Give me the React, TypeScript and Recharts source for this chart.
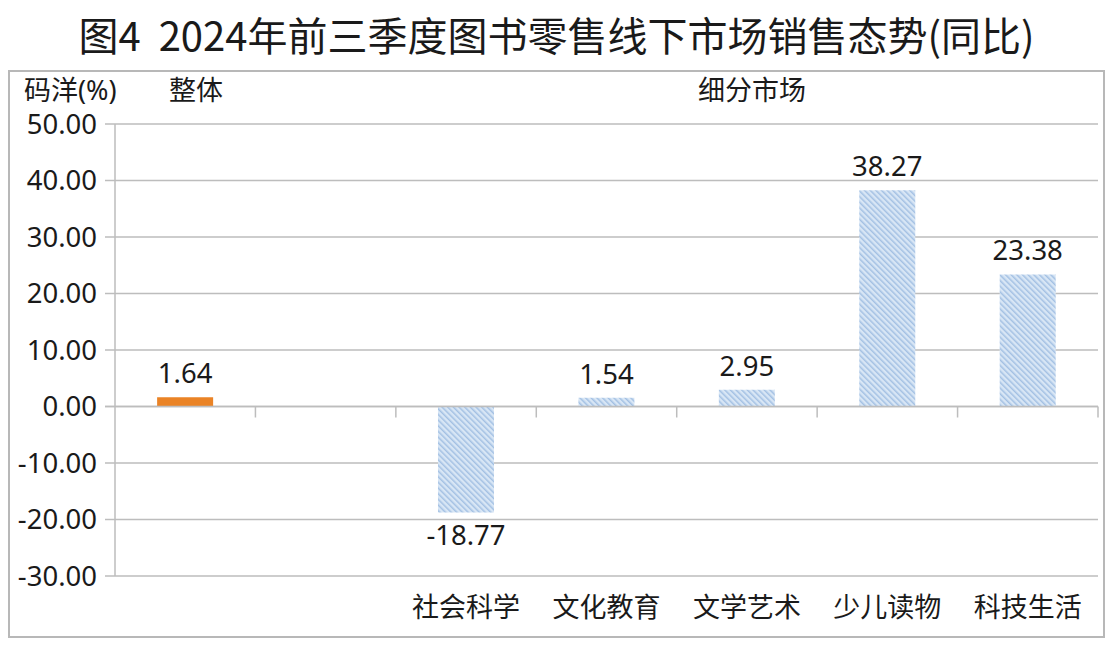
import { BarChart, Bar, XAxis, YAxis, CartesianGrid, ReferenceLine, LabelList, Cell } from "recharts";

const categories = ["整体", "空", "社会科学", "文化教育", "文学艺术", "少儿读物", "科技生活"];
const tickLabels = ["", "", "社会科学", "文化教育", "文学艺术", "少儿读物", "科技生活"];
const values = [1.64, null, -18.77, 1.54, 2.95, 38.27, 23.38];
const yTicks = [50, 40, 30, 20, 10, 0, -10, -20, -30];

const data = categories.map((c, i) => ({ name: c, value: values[i] }));

const FONT = "'Noto Sans', 'Noto Sans CJK SC', sans-serif";
const GRID = "#bdbdbd";
const FRAME = "#b8b8b8";

function ZeroLine(props: any) {
  const { x1, x2, y1 } = props;
  const step = (x2 - x1) / categories.length;
  return (
    <g>
      <line x1={x1 - 10} x2={x2} y1={y1} y2={y1} stroke={GRID} strokeWidth={1.5} />
      {categories.map((_, i) => (
        <line key={i} x1={x1 + step * (i + 1)} x2={x1 + step * (i + 1)} y1={y1} y2={y1 + 11} stroke={GRID} strokeWidth={1.5} />
      ))}
    </g>
  );
}

function ValueLabel(props: any) {
  const { x, y, width, height, value } = props;
  if (value == null) return null;
  const top = Math.min(y, y + height);
  const bottom = Math.max(y, y + height);
  const ty = value >= 0 ? top - 14 : bottom + 32;
  return (
    <text x={x + width / 2} y={ty} textAnchor="middle" fontSize={27.5} fill="#1a1a1a" fontFamily={FONT}>
      {value.toFixed(2)}
    </text>
  );
}

const headStyle = { position: "absolute" as const, top: 74, fontSize: 27, lineHeight: "32px", color: "#1a1a1a" };

export default function App() {
  return (
    <div style={{ position: "relative", width: 1113, height: 646, margin: -8, background: "#fff", fontFamily: FONT }}>
      <div style={{ position: "absolute", left: 0, top: 5, width: 1113, textAlign: "center", fontSize: 40, fontWeight: 400, color: "#1a1a1a", fontFamily: "'Noto Sans CJK SC', sans-serif", whiteSpace: "pre" }}>
        图4  2024年前三季度图书零售线下市场销售态势(同比)
      </div>
      <div style={{ position: "absolute", left: 0, top: 0 }}>
        <BarChart width={1113} height={646} data={data} margin={{ top: 124, right: 15, bottom: 0, left: 5 }} barCategoryGap="30%">
          <defs>
            <pattern id="hatch" width="4" height="4" patternUnits="userSpaceOnUse" patternTransform="rotate(-45)">
              <rect width="4" height="4" fill="#d8e6f5" />
              <rect width="1.5" height="4" fill="#a3c0e3" />
            </pattern>
          </defs>
          <CartesianGrid horizontal vertical={false} stroke={GRID} strokeWidth={1.5} />
          <XAxis
            dataKey="name"
            axisLine={false}
            tickLine={false}
            tickSize={0}
            tickMargin={22}
            height={70}
            interval={0}
            tickFormatter={(_, i) => tickLabels[i]}
            tick={{ fontSize: 27, fill: "#1a1a1a", fontFamily: FONT }}
          />
          <YAxis
            domain={[-30, 50]}
            ticks={yTicks}
            interval={0}
            width={110}
            tickSize={10}
            tickMargin={8}
            stroke={GRID}
            axisLine={{ stroke: GRID, strokeWidth: 1.5 }}
            tickLine={{ stroke: GRID, strokeWidth: 1.5 }}
            tickFormatter={(v: number) => v.toFixed(2)}
            tick={{ fontSize: 27.5, fill: "#1a1a1a", fontFamily: FONT }}
          />
          <ReferenceLine y={0} shape={ZeroLine} />
          <Bar dataKey="value" isAnimationActive={false}>
            {data.map((_, i) => (
              <Cell key={i} fill={i === 0 ? "#ea8326" : "url(#hatch)"} />
            ))}
            <LabelList dataKey="value" content={ValueLabel} />
          </Bar>
        </BarChart>
      </div>
      {/* frame kept inside the root box so it is not clipped */}
      <div style={{ position: "absolute", left: 8, top: 70, width: 1097, height: 2, background: FRAME }} />
      <div style={{ position: "absolute", left: 8, top: 70, width: 2, height: 568, background: FRAME }} />
      <div style={{ position: "absolute", left: 1103, top: 70, width: 2, height: 568, background: FRAME }} />
      <div style={{ position: "absolute", left: 8, top: 636, width: 1097, height: 2, background: FRAME }} />
      <div style={{ ...headStyle, left: 24 }}>码洋(%)</div>
      <div style={{ ...headStyle, left: 146, width: 100, textAlign: "center" }}>整体</div>
      <div style={{ ...headStyle, left: 652, width: 200, textAlign: "center" }}>细分市场</div>
    </div>
  );
}
